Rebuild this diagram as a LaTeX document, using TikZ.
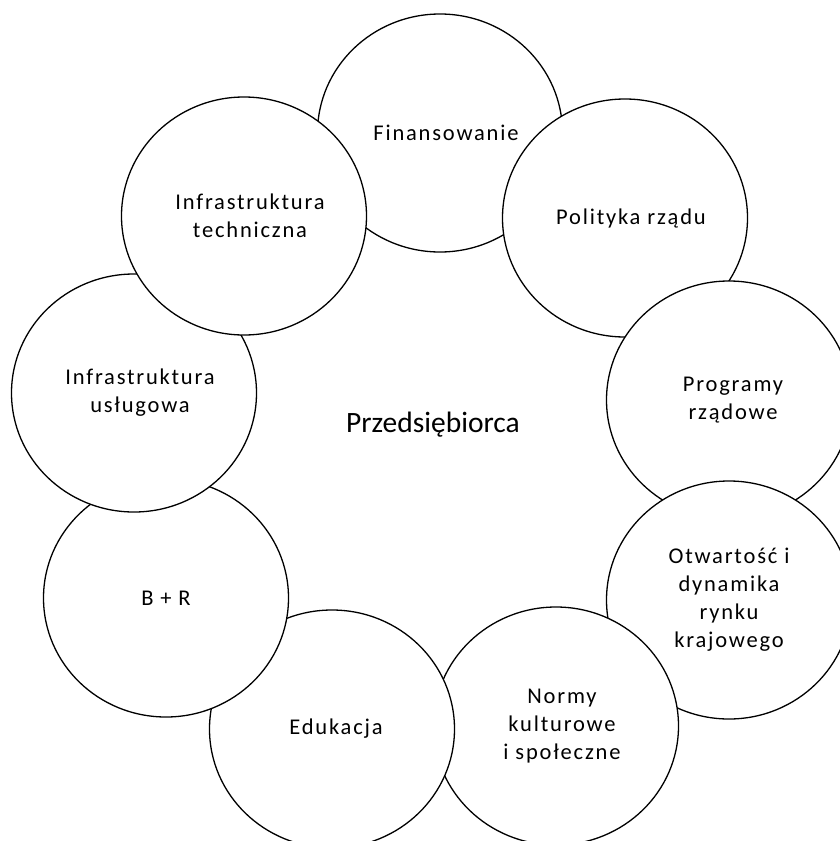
\documentclass[tikz,border=0pt]{standalone}
\usepackage{fontspec}
\setmainfont{Carlito}
\newfontfamily\lblfont[LetterSpace=8]{Carlito}
\usetikzlibrary{shapes.geometric}
\tikzset{
  circ/.style={ellipse, draw=black, fill=white, line width=1.3pt,
    minimum width=245pt, minimum height=238pt, inner sep=0pt},
  lbl/.style={align=center, font=\lblfont\fontsize{22.5}{28}\selectfont,
    text=black, inner sep=0pt},
  mainlbl/.style={font=\fontsize{29.5}{34}\selectfont, text=black, inner sep=0pt}
}
\begin{document}
\begin{tikzpicture}[x=1pt,y=-1pt]
\useasboundingbox (0,0) rectangle (840,841);
\clip (0,0) rectangle (840,841);
% circles, bottom to top
\node[circ] (fin)  at (440,133) {};
\node[circ] (pol)  at (625,218) {};
\node[circ] (prog) at (729,400) {};
\node[circ] (otw)  at (729,600) {};
\node[circ] (norm) at (556,726) {};
\node[circ] (edu)  at (332,729) {};
\node[circ] (br)   at (166,598) {};
\node[circ] (usl)  at (134,393) {};
\node[circ] (tech) at (244,216) {};
% labels
\node[lbl] (tfin)  at ([xshift=6pt]fin.center)  {Finansowanie};
\node[lbl] (tpol)  at ([xshift=6pt]pol.center)  {Polityka rządu};
\node[lbl] (tprog) at ([xshift=4pt]prog.center) {Programy\\rządowe};
\node[lbl] (totw)  at ([xshift=0pt]otw.center)  {Otwartość i\\dynamika\\rynku\\krajowego};
\node[lbl] (tnorm) at ([xshift=6pt]norm.center) {Normy\\kulturowe\\i społeczne};
\node[lbl] (tedu)  at ([xshift=4pt]edu.center)  {Edukacja};
\node[lbl] (tbr)   at ([xshift=0pt]br.center)   {B + R};
\node[lbl] (tusl)  at ([xshift=6pt]usl.center)  {Infrastruktura\\usługowa};
\node[lbl] (ttech) at ([xshift=6pt]tech.center) {Infrastruktura\\techniczna};
\node[mainlbl] (center) at (433,425) {Przedsiębiorca};
\end{tikzpicture}
\end{document}
